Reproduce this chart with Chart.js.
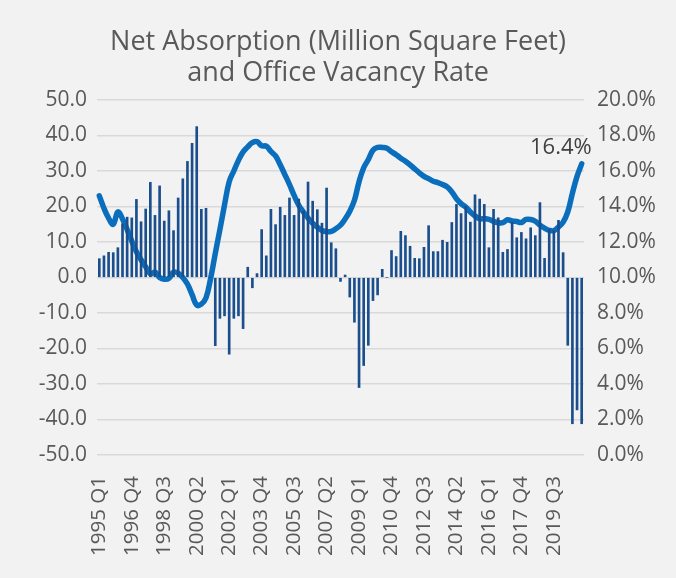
<!DOCTYPE html>
<html>
<head>
<meta charset="utf-8">
<script src="https://cdn.jsdelivr.net/npm/chart.js@4.4.1/dist/chart.umd.min.js"></script>
<style>
html,body{margin:0;padding:0;background:#F2F2F2;}
canvas{display:block;}
</style>
</head>
<body>
<canvas id="c" width="676" height="578"></canvas>
<script>
const categories = [
"1995 Q1","1995 Q2","1995 Q3","1995 Q4","1996 Q1","1996 Q2","1996 Q3","1996 Q4",
"1997 Q1","1997 Q2","1997 Q3","1997 Q4","1998 Q1","1998 Q2","1998 Q3","1998 Q4",
"1999 Q1","1999 Q2","1999 Q3","1999 Q4","2000 Q1","2000 Q2","2000 Q3","2000 Q4",
"2001 Q1","2001 Q2","2001 Q3","2001 Q4","2002 Q1","2002 Q2","2002 Q3","2002 Q4",
"2003 Q1","2003 Q2","2003 Q3","2003 Q4","2004 Q1","2004 Q2","2004 Q3","2004 Q4",
"2005 Q1","2005 Q2","2005 Q3","2005 Q4","2006 Q1","2006 Q2","2006 Q3","2006 Q4",
"2007 Q1","2007 Q2","2007 Q3","2007 Q4","2008 Q1","2008 Q2","2008 Q3","2008 Q4",
"2009 Q1","2009 Q2","2009 Q3","2009 Q4","2010 Q1","2010 Q2","2010 Q3","2010 Q4",
"2011 Q1","2011 Q2","2011 Q3","2011 Q4","2012 Q1","2012 Q2","2012 Q3","2012 Q4",
"2013 Q1","2013 Q2","2013 Q3","2013 Q4","2014 Q1","2014 Q2","2014 Q3","2014 Q4",
"2015 Q1","2015 Q2","2015 Q3","2015 Q4","2016 Q1","2016 Q2","2016 Q3","2016 Q4",
"2017 Q1","2017 Q2","2017 Q3","2017 Q4","2018 Q1","2018 Q2","2018 Q3","2018 Q4",
"2019 Q1","2019 Q2","2019 Q3","2019 Q4","2020 Q1","2020 Q2","2020 Q3","2020 Q4",
"2021 Q1"
];

// Net absorption, million square feet
const netAbsorption = [
5.3,6.1,7.1,7.0,8.4,15.1,17.0,16.8,22.0,15.7,19.3,26.8,17.5,25.8,15.9,18.8,
13.2,22.4,27.8,32.7,37.8,42.5,19.2,19.5,0.0,-19.2,-11.5,-10.8,-21.6,-11.5,-10.8,-14.4,
2.9,-2.9,1.1,13.5,6.1,19.2,14.9,19.8,17.5,22.4,17.5,22.1,18.7,26.9,21.5,19.1,
15.3,25.2,9.8,8.1,-1.1,0.7,-5.5,-12.6,-31.0,-24.8,-19.1,-6.5,-4.9,2.3,0.0,7.6,
5.9,13.0,11.8,8.8,5.4,5.3,8.5,14.6,7.3,7.3,10.5,9.9,15.5,20.6,18.0,20.0,
15.6,23.3,22.1,20.6,8.4,19.2,16.8,7.1,7.9,15.6,11.2,12.7,10.9,14.0,11.8,21.1,
5.4,13.5,13.2,16.1,7.0,-19.1,-41.2,-37.3,-41.2
];

// Office vacancy rate, percent
const vacancyRate = [
14.6,13.9,13.35,13.0,13.7,13.3,12.7,12.05,11.45,11.0,10.6,10.2,10.3,10.0,9.9,9.95,
10.3,10.25,10.0,9.63,9.03,8.45,8.5,8.85,9.95,11.35,12.7,14.1,15.4,16.0,16.6,17.08,
17.36,17.6,17.65,17.42,17.4,17.1,16.85,16.35,15.8,15.24,14.62,14.07,13.69,13.35,13.06,12.84,
12.65,12.58,12.6,12.75,12.95,13.3,13.73,14.35,15.4,16.18,16.65,17.17,17.33,17.33,17.28,17.08,
16.92,16.72,16.55,16.35,16.12,15.9,15.7,15.57,15.42,15.35,15.24,15.1,14.82,14.44,14.16,13.97,
13.69,13.47,13.31,13.31,13.28,13.16,13.09,13.09,13.25,13.18,13.15,13.1,13.27,13.27,13.17,12.95,
12.78,12.66,12.64,12.85,13.12,13.7,14.75,15.7,16.4
];

const leftTicks = { min: -50, max: 50, step: 10 };
const rightTicks = { min: 0, max: 20, step: 2 };
const labelEvery = 7;

const titleLines = ["Net Absorption (Million Square Feet)", "and Office Vacancy Rate"];

const FONT = "'Open Sans', 'DejaVu Sans', sans-serif";
const TEXT = "#595959";

const bgPlugin = {
  id: 'bg',
  beforeDraw(chart) {
    const ctx = chart.ctx;
    ctx.save();
    ctx.fillStyle = '#F2F2F2';
    ctx.fillRect(0, 0, chart.width, chart.height);
    ctx.restore();
  }
};

const endLabelPlugin = {
  id: 'endLabel',
  afterDatasetsDraw(chart) {
    const meta = chart.getDatasetMeta(1);
    const n = meta.data.length;
    if (!n) return;
    const el = meta.data[n - 1];
    const ctx = chart.ctx;
    ctx.save();
    ctx.font = "22px " + FONT;
    ctx.fillStyle = "#404040";
    ctx.textAlign = 'right';
    ctx.textBaseline = 'middle';
    ctx.fillText(vacancyRate[n - 1].toFixed(1) + '%', el.x + 10, el.y - 16);
    ctx.restore();
  }
};

new Chart(document.getElementById('c'), {
  type: 'bar',
  data: {
    labels: categories,
    datasets: [
      {
        type: 'bar',
        label: 'Net Absorption',
        data: netAbsorption,
        backgroundColor: '#1A4E8D',
        barThickness: 2,
        yAxisID: 'y',
        order: 0
      },
      {
        type: 'line',
        label: 'Vacancy Rate',
        data: vacancyRate,
        borderColor: '#0A6EBD',
        borderWidth: 5.5,
        pointRadius: 0,
        tension: 0.4,
        borderJoinStyle: 'round',
        borderCapStyle: 'round',
        fill: false,
        yAxisID: 'y1',
        order: 1
      }
    ]
  },
  options: {
    responsive: false,
    animation: false,
    layout: { padding: 0 },
    plugins: {
      legend: { display: false },
      tooltip: { enabled: false },
      title: {
        display: true,
        text: titleLines,
        color: TEXT,
        font: { family: FONT, size: 27, weight: 'normal', lineHeight: 1.15 },
        padding: { top: 26.5, bottom: 11.4 }
      }
    },
    scales: {
      x: {
        grid: { display: false },
        border: { display: false },
        ticks: {
          autoSkip: false,
          minRotation: 90,
          maxRotation: 90,
          padding: 13,
          color: TEXT,
          font: { family: FONT, size: 20.5 },
          callback: function(v, i) { return i % labelEvery === 0 ? categories[i] : ''; }
        },
        afterFit(scale) { scale.height = 123; }
      },
      y: {
        position: 'left',
        min: leftTicks.min,
        max: leftTicks.max,
        grid: { color: '#D9D9D9', lineWidth: 1.5, drawTicks: false },
        border: { display: false },
        ticks: {
          stepSize: leftTicks.step,
          padding: 10,
          color: TEXT,
          font: { family: FONT, size: 21 },
          callback: v => v.toFixed(1)
        },
        afterFit(scale) { scale.width = 97; }
      },
      y1: {
        position: 'right',
        min: rightTicks.min,
        max: rightTicks.max,
        grid: { display: false, drawTicks: false },
        border: { display: false },
        ticks: {
          stepSize: rightTicks.step,
          padding: 13,
          color: TEXT,
          font: { family: FONT, size: 21 },
          callback: v => v.toFixed(1) + '%'
        },
        afterFit(scale) { scale.width = 92; }
      }
    }
  },
  plugins: [bgPlugin, endLabelPlugin]
});
</script>
</body>
</html>
